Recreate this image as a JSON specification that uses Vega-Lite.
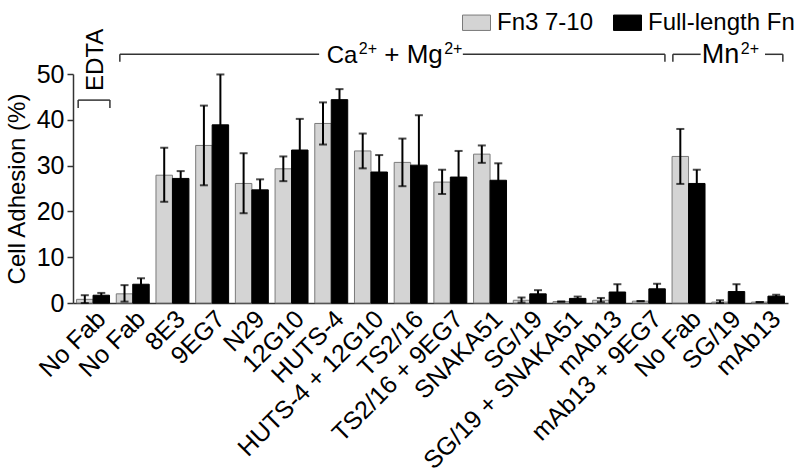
{
  "$schema": "https://vega.github.io/schema/vega-lite/v6.json",
  "width": 715,
  "height": 229,
  "autosize": "none",
  "padding": {"left": 73, "top": 74, "right": 8, "bottom": 171},
  "background": "white",
  "config": {
    "font": "Liberation Sans",
    "view": {"stroke": null},
    "axis": {"labelFont": "Liberation Sans", "titleFont": "Liberation Sans", "labelColor": "#000", "titleColor": "#000", "domainColor": "#333", "tickColor": "#333", "domainWidth": 1.5, "tickWidth": 1.5, "grid": false},
    "legend": {"labelFont": "Liberation Sans", "labelColor": "#000"}
  },
  "datasets": {
    "main": [
      {"id": "c01", "series": "Fn3 7-10", "value": 0.8, "lo": 0.0, "hi": 1.7},
      {"id": "c01", "series": "Full-length Fn", "value": 1.7, "lo": 1.2, "hi": 2.2},
      {"id": "c02", "series": "Fn3 7-10", "value": 2.0, "lo": 0.3, "hi": 3.9},
      {"id": "c02", "series": "Full-length Fn", "value": 4.1, "lo": 2.8, "hi": 5.4},
      {"id": "c03", "series": "Fn3 7-10", "value": 27.9, "lo": 22.1, "hi": 33.9},
      {"id": "c03", "series": "Full-length Fn", "value": 27.2, "lo": 25.6, "hi": 28.8},
      {"id": "c04", "series": "Fn3 7-10", "value": 34.4, "lo": 25.7, "hi": 43.1},
      {"id": "c04", "series": "Full-length Fn", "value": 38.9, "lo": 27.9, "hi": 49.9},
      {"id": "c05", "series": "Fn3 7-10", "value": 26.1, "lo": 19.6, "hi": 32.7},
      {"id": "c05", "series": "Full-length Fn", "value": 24.7, "lo": 22.4, "hi": 27.0},
      {"id": "c06", "series": "Fn3 7-10", "value": 29.3, "lo": 26.6, "hi": 32.0},
      {"id": "c06", "series": "Full-length Fn", "value": 33.4, "lo": 26.6, "hi": 40.2},
      {"id": "c07", "series": "Fn3 7-10", "value": 39.2, "lo": 34.6, "hi": 43.8},
      {"id": "c07", "series": "Full-length Fn", "value": 44.4, "lo": 42.1, "hi": 46.7},
      {"id": "c08", "series": "Fn3 7-10", "value": 33.2, "lo": 29.4, "hi": 37.0},
      {"id": "c08", "series": "Full-length Fn", "value": 28.6, "lo": 24.9, "hi": 32.3},
      {"id": "c09", "series": "Fn3 7-10", "value": 30.7, "lo": 25.5, "hi": 35.9},
      {"id": "c09", "series": "Full-length Fn", "value": 30.1, "lo": 19.2, "hi": 41.0},
      {"id": "c10", "series": "Fn3 7-10", "value": 26.4, "lo": 23.8, "hi": 29.1},
      {"id": "c10", "series": "Full-length Fn", "value": 27.5, "lo": 21.8, "hi": 33.2},
      {"id": "c11", "series": "Fn3 7-10", "value": 32.5, "lo": 30.6, "hi": 34.4},
      {"id": "c11", "series": "Full-length Fn", "value": 26.8, "lo": 23.1, "hi": 30.5},
      {"id": "c12", "series": "Fn3 7-10", "value": 0.6, "lo": 0.1, "hi": 1.2},
      {"id": "c12", "series": "Full-length Fn", "value": 2.0, "lo": 1.2, "hi": 2.8},
      {"id": "c13", "series": "Fn3 7-10", "value": 0.3, "lo": 0.3, "hi": 0.3},
      {"id": "c13", "series": "Full-length Fn", "value": 1.0, "lo": 0.6, "hi": 1.4},
      {"id": "c14", "series": "Fn3 7-10", "value": 0.6, "lo": 0.2, "hi": 1.1},
      {"id": "c14", "series": "Full-length Fn", "value": 2.4, "lo": 0.7, "hi": 4.1},
      {"id": "c15", "series": "Fn3 7-10", "value": 0.4, "lo": 0.4, "hi": 0.4},
      {"id": "c15", "series": "Full-length Fn", "value": 3.1, "lo": 2.0, "hi": 4.2},
      {"id": "c16", "series": "Fn3 7-10", "value": 32.0, "lo": 26.0, "hi": 38.0},
      {"id": "c16", "series": "Full-length Fn", "value": 26.1, "lo": 23.1, "hi": 29.1},
      {"id": "c17", "series": "Fn3 7-10", "value": 0.2, "lo": 0.0, "hi": 0.6},
      {"id": "c17", "series": "Full-length Fn", "value": 2.5, "lo": 0.9, "hi": 4.1},
      {"id": "c18", "series": "Fn3 7-10", "value": 0.2, "lo": 0.2, "hi": 0.2},
      {"id": "c18", "series": "Full-length Fn", "value": 1.5, "lo": 1.2, "hi": 1.8}
    ],
    "brackets": [
      {"x1": 0.13, "x2": 0.93, "y1": 44.3, "y2": 44.3},
      {"x1": 0.13, "x2": 0.13, "y1": 44.3, "y2": 42.6},
      {"x1": 0.93, "x2": 0.93, "y1": 44.3, "y2": 42.6},
      {"x1": 1.18, "x2": 6.2, "y1": 54.3, "y2": 54.3},
      {"x1": 1.18, "x2": 1.18, "y1": 54.3, "y2": 52.7},
      {"x1": 9.82, "x2": 14.91, "y1": 54.3, "y2": 54.3},
      {"x1": 14.91, "x2": 14.91, "y1": 54.3, "y2": 52.7},
      {"x1": 15.11, "x2": 15.81, "y1": 54.3, "y2": 54.3},
      {"x1": 15.11, "x2": 15.11, "y1": 54.3, "y2": 52.7},
      {"x1": 17.43, "x2": 17.88, "y1": 54.3, "y2": 54.3},
      {"x1": 17.88, "x2": 17.88, "y1": 54.3, "y2": 52.7}
    ],
    "notes": [
      {"x": 6.39, "y": 52.4, "text": "Ca", "size": 24},
      {"x": 7.2, "y": 54.4, "text": "2+", "size": 16},
      {"x": 7.84, "y": 52.4, "text": "+ Mg", "size": 26},
      {"x": 9.35, "y": 54.4, "text": "2+", "size": 16},
      {"x": 15.84, "y": 52.4, "text": "Mn", "size": 27},
      {"x": 16.82, "y": 54.4, "text": "2+", "size": 16}
    ],
    "edta": [
      {"x": 0.76, "y": 53.1, "text": "EDTA"}
    ]
  },
  "layer": [
    {
      "data": {"name": "main"},
      "encoding": {
        "x": {
          "field": "id", "type": "nominal", "sort": null,
          "scale": {"paddingInner": 0.17, "paddingOuter": 0.09},
          "axis": {
            "title": null, "labelAngle": -45, "labelFontSize": 25, "ticks": false, "labelPadding": 3, "labelLimit": 0,
            "labelExpr": "{'c01':'No Fab','c02':'No Fab','c03':'8E3','c04':'9EG7','c05':'N29','c06':'12G10','c07':'HUTS-4','c08':'HUTS-4 + 12G10','c09':'TS2/16','c10':'TS2/16 + 9EG7','c11':'SNAKA51','c12':'SG/19','c13':'SG/19 + SNAKA51','c14':'mAb13','c15':'mAb13 + 9EG7','c16':'No Fab','c17':'SG/19','c18':'mAb13'}[datum.value]"
          }
        },
        "xOffset": {"field": "series", "type": "nominal", "scale": {"paddingInner": 0, "paddingOuter": 0}}
      },
      "layer": [
        {
          "mark": {"type": "bar", "strokeWidth": 1},
          "encoding": {
            "y": {
              "field": "value", "type": "quantitative",
              "scale": {"domain": [0, 50], "nice": false},
              "axis": {"title": "Cell Adhesion (%)", "titleFontSize": 24, "titleFontWeight": "normal", "labelFontSize": 25, "values": [0, 10, 20, 30, 40, 50], "tickSize": 6, "titlePadding": 7, "labelPadding": 3}
            },
            "color": {
              "field": "series", "type": "nominal",
              "scale": {"domain": ["Fn3 7-10", "Full-length Fn"], "range": ["#d4d4d4", "#000000"]},
              "legend": {
                "title": null, "orient": "none", "legendX": 389, "legendY": -66, "direction": "horizontal",
                "labelFontSize": 24, "symbolType": "M-1,-0.55L1,-0.55L1,0.55L-1,0.55Z", "symbolSize": 784,
                "symbolStrokeColor": "#7a7a7a", "symbolStrokeWidth": 1, "symbolOpacity": 1, "labelOffset": 6, "columnPadding": 17
              }
            },
            "stroke": {
              "field": "series", "type": "nominal",
              "scale": {"domain": ["Fn3 7-10", "Full-length Fn"], "range": ["#7a7a7a", "#000000"]},
              "legend": null
            }
          }
        },
        {
          "mark": {"type": "rule", "color": "#000", "strokeWidth": 2},
          "encoding": {
            "y": {"field": "lo", "type": "quantitative", "scale": {"domain": [0, 50], "nice": false}},
            "y2": {"field": "hi"}
          }
        },
        {
          "mark": {"type": "tick", "color": "#000", "size": 8, "thickness": 2},
          "encoding": {"y": {"field": "hi", "type": "quantitative", "scale": {"domain": [0, 50], "nice": false}}}
        },
        {
          "mark": {"type": "tick", "color": "#000", "size": 8, "thickness": 2},
          "encoding": {"y": {"field": "lo", "type": "quantitative", "scale": {"domain": [0, 50], "nice": false}}}
        }
      ]
    },
    {
      "layer": [
        {
          "data": {"name": "brackets"},
          "mark": {"type": "rule", "color": "#333", "strokeWidth": 1.5},
          "encoding": {
            "x": {"field": "x1", "type": "quantitative", "scale": {"domain": [0, 18.01], "nice": false, "zero": false}, "axis": null},
            "x2": {"field": "x2"},
            "y": {"field": "y1", "type": "quantitative", "scale": {"domain": [0, 50], "nice": false}},
            "y2": {"field": "y2"}
          }
        },
        {
          "data": {"name": "notes"},
          "mark": {"type": "text", "align": "left", "baseline": "alphabetic", "color": "#000"},
          "encoding": {
            "x": {"field": "x", "type": "quantitative", "scale": {"domain": [0, 18.01], "nice": false, "zero": false}, "axis": null},
            "y": {"field": "y", "type": "quantitative", "scale": {"domain": [0, 50], "nice": false}},
            "text": {"field": "text"},
            "size": {"field": "size", "type": "quantitative", "scale": null}
          }
        },
        {
          "data": {"name": "edta"},
          "mark": {"type": "text", "fontSize": 24, "align": "center", "baseline": "alphabetic", "angle": 270, "color": "#000"},
          "encoding": {
            "x": {"field": "x", "type": "quantitative", "scale": {"domain": [0, 18.01], "nice": false, "zero": false}, "axis": null},
            "y": {"field": "y", "type": "quantitative", "scale": {"domain": [0, 50], "nice": false}},
            "text": {"field": "text"}
          }
        }
      ]
    }
  ],
  "resolve": {"scale": {"x": "independent"}}
}
